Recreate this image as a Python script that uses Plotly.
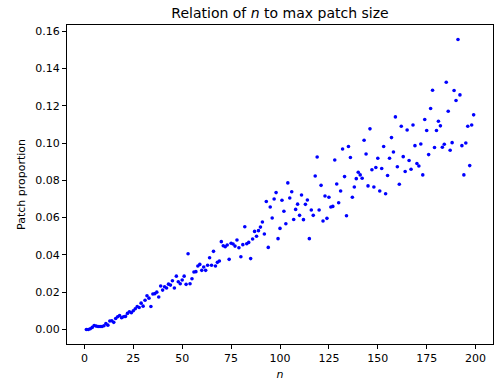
import plotly.graph_objects as go

n_values = list(range(1, 200))
patch_proportion = [
    0.0000, 0.0000, 0.0004, 0.0011, 0.0021, 0.0018, 0.0016, 0.0016, 0.0016, 0.0020,
    0.0032, 0.0023, 0.0045, 0.0047, 0.0038, 0.0059, 0.0068, 0.0075, 0.0063, 0.0068,
    0.0070, 0.0086, 0.0095, 0.0090, 0.0100, 0.0111, 0.0123, 0.0118, 0.0141, 0.0125,
    0.0157, 0.0181, 0.0168, 0.0123, 0.0190, 0.0192, 0.0200, 0.0174, 0.0233, 0.0211,
    0.0229, 0.0222, 0.0243, 0.0238, 0.0261, 0.0222, 0.0286, 0.0256, 0.0245, 0.0265,
    0.0286, 0.0242, 0.0406, 0.0245, 0.0272, 0.0308, 0.0310, 0.0340, 0.0349, 0.0317,
    0.0335, 0.0317, 0.0344, 0.0385, 0.0344, 0.0419, 0.0340, 0.0360, 0.0367, 0.0471,
    0.0449, 0.0444, 0.0453, 0.0376, 0.0462, 0.0458, 0.0447, 0.0480, 0.0438, 0.0390,
    0.0455, 0.0551, 0.0460, 0.0467, 0.0380, 0.0485, 0.0526, 0.0500, 0.0530, 0.0549,
    0.0576, 0.0512, 0.0686, 0.0440, 0.0657, 0.0598, 0.0700, 0.0734, 0.0487, 0.0542,
    0.0693, 0.0634, 0.0567, 0.0786, 0.0705, 0.0739, 0.0590, 0.0644, 0.0672, 0.0612,
    0.0721, 0.0589, 0.0671, 0.0694, 0.0487, 0.0641, 0.0612, 0.0823, 0.0925, 0.0641,
    0.0773, 0.0582, 0.0716, 0.0596, 0.0709, 0.0657, 0.0660, 0.0909, 0.0780, 0.0680,
    0.0743, 0.0968, 0.0820, 0.0610, 0.0981, 0.0922, 0.0709, 0.0764, 0.0809, 0.0843,
    0.0829, 0.0811, 0.1015, 0.0941, 0.0770, 0.1076, 0.0857, 0.0764, 0.0869, 0.0918,
    0.0743, 0.0863, 0.0981, 0.0728, 0.0826, 0.0918, 0.1029, 0.0952, 0.1140, 0.0873,
    0.0779, 0.1090, 0.0927, 0.0847, 0.1070, 0.0906, 0.0859, 0.1097, 0.0986, 0.0890,
    0.0877, 0.0995, 0.0829, 0.1126, 0.1067, 0.0938, 0.1185, 0.1283, 0.0976, 0.1067,
    0.1117, 0.1092, 0.0977, 0.0993, 0.1326, 0.1170, 0.0961, 0.1002, 0.1282, 0.1228,
    0.1555, 0.1258, 0.0986, 0.0829, 0.1000, 0.1090, 0.0879, 0.1097, 0.1151,
]

x_ticks = [0, 25, 50, 75, 100, 125, 150, 175, 200]
y_ticks = [0.00, 0.02, 0.04, 0.06, 0.08, 0.10, 0.12, 0.14, 0.16]
y_tick_labels = [f"{v:.2f}" for v in y_ticks]

FONT = "DejaVu Sans"

fig = go.Figure(
    go.Scatter(
        x=n_values,
        y=patch_proportion,
        mode="markers",
        marker=dict(color="#0000ff", size=3.6, line=dict(width=0)),
        showlegend=False,
    )
)

axis_common = dict(
    showline=True, mirror=True, linecolor="black", linewidth=1,
    ticks="outside", ticklen=4, tickwidth=1, tickcolor="black",
    showgrid=False, zeroline=False,
    tickfont=dict(family=FONT, size=11, color="black"),
)

fig.update_layout(
    width=496, height=385,
    margin=dict(l=67, r=3, t=25, b=41),
    paper_bgcolor="white", plot_bgcolor="white",
    font=dict(family=FONT, color="black"),
    title=dict(
        text="Relation of <i>n</i> to max patch size",
        x=0.5, xref="paper", xanchor="center",
        y=1 - 13 / 385, yref="container", yanchor="middle",
        font=dict(family=FONT, size=14, color="black"),
    ),
    xaxis=dict(
        range=[-8.9, 208.9], tickvals=x_ticks,
        title=dict(text="<i>n</i>", font=dict(family=FONT, size=11, color="black"), standoff=6),
        **axis_common,
    ),
    yaxis=dict(
        range=[-0.0078, 0.1633], tickvals=y_ticks, ticktext=y_tick_labels,
        title=dict(text="Patch proportion", font=dict(family=FONT, size=11, color="black"), standoff=7),
        **axis_common,
    ),
)

fig.write_html("out.html")
